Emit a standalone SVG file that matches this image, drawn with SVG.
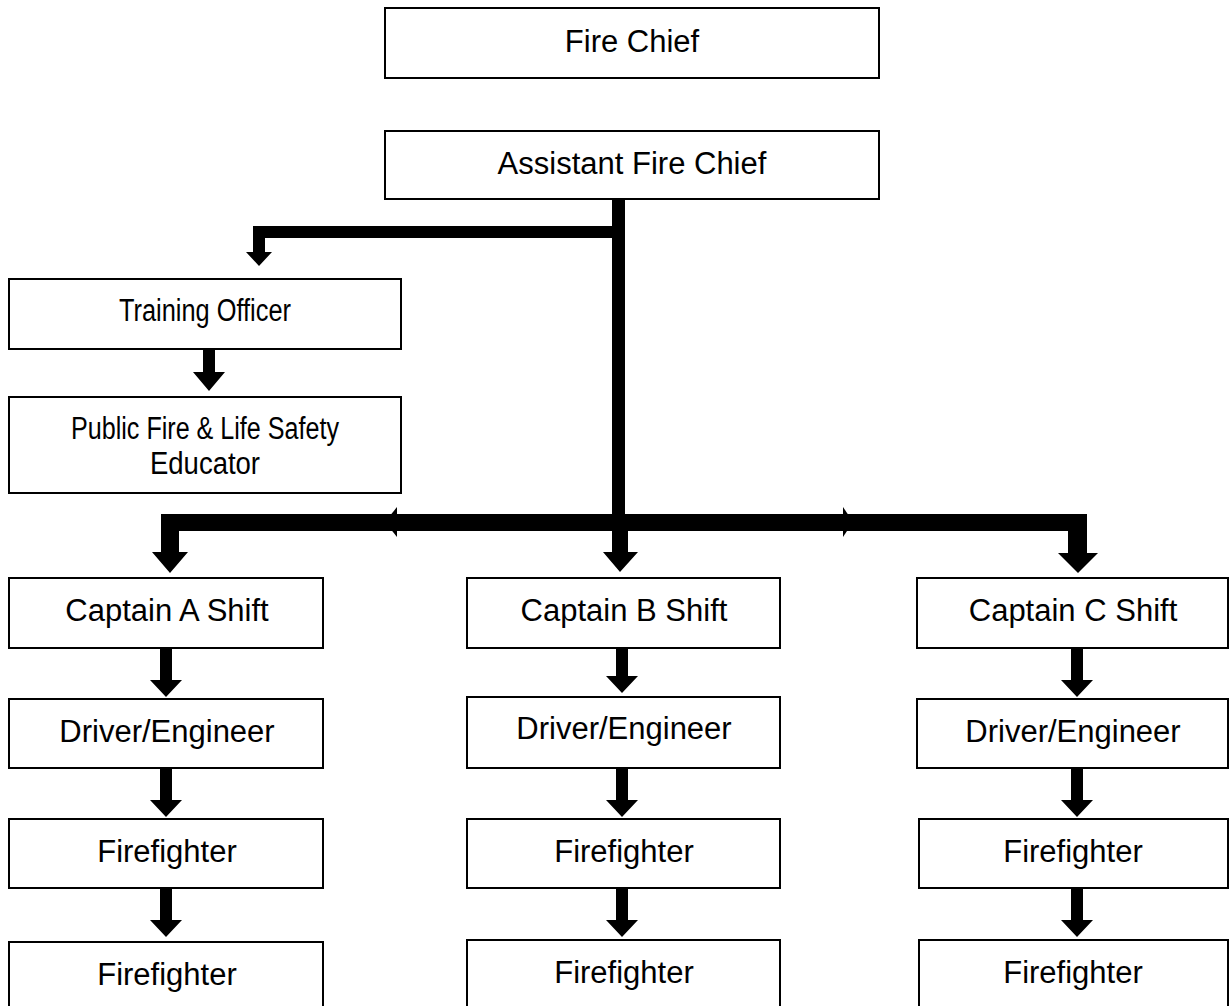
<svg xmlns="http://www.w3.org/2000/svg" width="1230" height="1006" viewBox="0 0 1230 1006">
<style>
.box{fill:#fff;stroke:#000;stroke-width:2}
.t{font-family:"Liberation Sans",Arial,sans-serif;font-size:31px;fill:#000;text-anchor:middle}
.c{fill:#000}
</style>
<rect width="1230" height="1006" fill="#fff"/>
<g id="connectors">
<rect class="c" x="612" y="199" width="13" height="355"/>
<path class="c" d="M253,226 H612 V238 H265 V252 H272 L259,266 L246,252 H253 Z"/>
<path class="c" d="M203,349 H215 V372 H225 L209,391 L193,372 H203 Z"/>
<rect class="c" x="161" y="514" width="926" height="17"/>
<path class="c" d="M161,514 H179 V552 H188 L170,573 L152,552 H161 Z"/>
<path class="c" d="M612,531 H628 V552 H638 L620,572 L603,552 H612 Z"/>
<path class="c" d="M1068,514 H1087 V553 H1098 L1078,573 L1058,553 H1068 Z"/>
<path class="c" d="M385,522 L397,507 V537 Z"/>
<path class="c" d="M853,522 L843,507 V537 Z"/>
<path class="c" d="M160,646 H172 V680 H182 L166,697 L150,680 H160 Z"/>
<path class="c" d="M160,766 H172 V800 H182 L166,817 L150,800 H160 Z"/>
<path class="c" d="M160,886 H172 V920 H182 L166,937 L150,920 H160 Z"/>
<path class="c" d="M616,646 H628 V676 H638 L622,693 L606,676 H616 Z"/>
<path class="c" d="M616,766 H628 V800 H638 L622,817 L606,800 H616 Z"/>
<path class="c" d="M616,886 H628 V920 H638 L622,937 L606,920 H616 Z"/>
<path class="c" d="M1071,646 H1083 V680 H1093 L1077,697 L1061,680 H1071 Z"/>
<path class="c" d="M1071,766 H1083 V800 H1093 L1077,817 L1061,800 H1071 Z"/>
<path class="c" d="M1071,886 H1083 V920 H1093 L1077,937 L1061,920 H1071 Z"/>
</g>
<g id="fire-chief"><rect class="box" x="385" y="8" width="494" height="70"/><text class="t" x="632" y="52">Fire Chief</text></g>
<g id="assistant-fire-chief"><rect class="box" x="385" y="131" width="494" height="68"/><text class="t" x="632" y="174">Assistant Fire Chief</text></g>
<g id="training-officer"><rect class="box" x="9" y="279" width="392" height="70"/><text class="t" x="205" y="321" textLength="172" lengthAdjust="spacingAndGlyphs">Training Officer</text></g>
<g id="public-educator"><rect class="box" x="9" y="397" width="392" height="96"/><text class="t" x="205" y="439" textLength="268" lengthAdjust="spacingAndGlyphs">Public Fire &amp; Life Safety</text><text class="t" x="205" y="474" textLength="110" lengthAdjust="spacingAndGlyphs">Educator</text></g>
<g id="captain-a"><rect class="box" x="9" y="578" width="314" height="70"/><text class="t" x="167" y="621">Captain A Shift</text></g>
<g id="driver-a"><rect class="box" x="9" y="699" width="314" height="69"/><text class="t" x="167" y="742">Driver/Engineer</text></g>
<g id="ff-a1"><rect class="box" x="9" y="819" width="314" height="69"/><text class="t" x="167" y="862">Firefighter</text></g>
<g id="ff-a2"><rect class="box" x="9" y="942" width="314" height="80"/><text class="t" x="167" y="985">Firefighter</text></g>
<g id="captain-b"><rect class="box" x="467" y="578" width="313" height="70"/><text class="t" x="624" y="621">Captain B Shift</text></g>
<g id="driver-b"><rect class="box" x="467" y="697" width="313" height="71"/><text class="t" x="624" y="739">Driver/Engineer</text></g>
<g id="ff-b1"><rect class="box" x="467" y="819" width="313" height="69"/><text class="t" x="624" y="862">Firefighter</text></g>
<g id="ff-b2"><rect class="box" x="467" y="940" width="313" height="80"/><text class="t" x="624" y="983">Firefighter</text></g>
<g id="captain-c"><rect class="box" x="917" y="578" width="311" height="70"/><text class="t" x="1073" y="621">Captain C Shift</text></g>
<g id="driver-c"><rect class="box" x="917" y="699" width="311" height="69"/><text class="t" x="1073" y="742">Driver/Engineer</text></g>
<g id="ff-c1"><rect class="box" x="919" y="819" width="309" height="69"/><text class="t" x="1073" y="862">Firefighter</text></g>
<g id="ff-c2"><rect class="box" x="919" y="940" width="309" height="80"/><text class="t" x="1073" y="983">Firefighter</text></g>
</svg>
